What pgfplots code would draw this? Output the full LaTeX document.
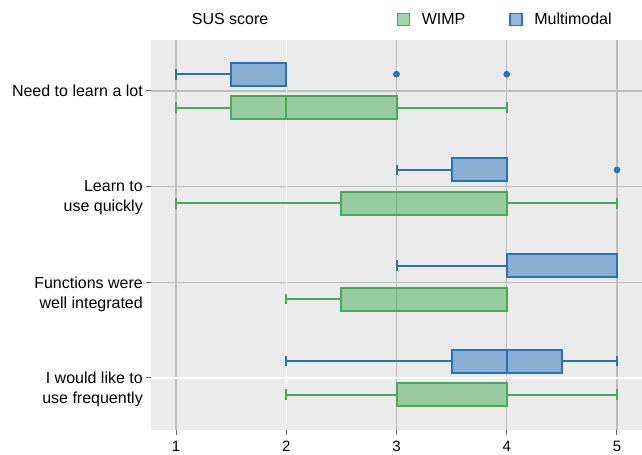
\documentclass[border=0pt]{standalone}
\usepackage{pgfplots}
\pgfplotsset{compat=1.18}
\usepgfplotslibrary{statistics}
\usepackage{fontspec}
\setmainfont{Liberation Sans}
\definecolor{mblue}{HTML}{2A72B8}
\definecolor{mgreen}{HTML}{45AB55}
\definecolor{bgc}{HTML}{EBEBEB}
\definecolor{gridc}{HTML}{BDBDBD}
\pgfplotsset{
  mm/.style={draw=mblue, fill=mblue, fill opacity=0.5, line width=2bp, mark=*, mark size=2.3bp,
    mark options={fill=mblue, draw=mblue, fill opacity=1, solid}, forget plot,
    boxplot/every whisker/.style={draw=mblue, line width=2bp},
    boxplot/every box/.style={draw=mblue, fill=mblue, fill opacity=0.5, line width=2bp},
    boxplot/every median/.style={draw=mblue, line width=2bp}},
  ww/.style={draw=mgreen, fill=mgreen, fill opacity=0.5, line width=2bp, mark=*, mark size=2.3bp,
    mark options={fill=mgreen, draw=mgreen, fill opacity=1, solid}, forget plot,
    boxplot/every whisker/.style={draw=mgreen, line width=2bp},
    boxplot/every box/.style={draw=mgreen, fill=mgreen, fill opacity=0.5, line width=2bp},
    boxplot/every median/.style={draw=mgreen, line width=2bp}},
}
\begin{document}
\begin{tikzpicture}[font=\fontsize{16bp}{20bp}\selectfont]
\useasboundingbox (0,0) rectangle (642bp,455bp);
\begin{axis}[
  at={(151bp,25bp)}, anchor=south west,
  width=491bp, height=390bp, scale only axis,
  xmin=0.773, xmax=5.227, ymin=-0.544, ymax=3.533,
  axis background/.style={fill=bgc},
  axis line style={draw=none},
  xtick={1,3,4,5}, extra x ticks={2}, extra x tick style={grid style={draw=white, line width=1.4bp}},
  ytick={1,2,3},
  yticklabels={{Functions were\\well integrated},{Learn to\\use quickly},{Need to learn a lot}},
  extra y ticks={0}, extra y tick labels={{I would like to\\use frequently}},
  extra y tick style={grid style={draw=white, line width=1.4bp}},
  grid=major, grid style={draw=gridc, line width=1.4bp},
  tick align=outside, xtick pos=lower, ytick pos=left,
  major tick length=5bp, tick style={draw=black!60, line width=1bp},
  yticklabel style={align=right, inner sep=0pt, anchor=north east, yshift=6bp, xshift=-3bp},
  xticklabel style={inner sep=0pt, anchor=north, yshift=-6bp, font=\fontsize{15bp}{18bp}\selectfont},
  /pgf/number format/assume math mode=true,
  boxplot/draw direction=x,
  boxplot/box extend=0.24,
  boxplot/whisker extend=0.11,
  legend style={at={(0.5004,1.0526)}, anchor=west, draw=none, fill=none, inner sep=0pt,
    /tikz/every even column/.append style={column sep=44bp}, nodes={inner sep=0pt}},
  legend columns=2, legend cell align=left,
  clip=false,
]
% Need to learn a lot (y=3)
\addplot[mm, boxplot prepared={lower whisker=1, lower quartile=1.5, median=2, upper quartile=2, upper whisker=2, draw position=3.175}]
  table[row sep=\\, y index=0] {v\\3\\4\\};
\addplot[ww, boxplot prepared={lower whisker=1, lower quartile=1.5, median=2, upper quartile=3, upper whisker=4, draw position=2.825}]
  coordinates {};
% Learn to use quickly (y=2)
\addplot[mm, boxplot prepared={lower whisker=3, lower quartile=3.5, median=4, upper quartile=4, upper whisker=4, draw position=2.175}]
  table[row sep=\\, y index=0] {v\\5\\};
\addplot[ww, boxplot prepared={lower whisker=1, lower quartile=2.5, median=4, upper quartile=4, upper whisker=5, draw position=1.825}]
  coordinates {};
% Functions were well integrated (y=1)
\addplot[mm, boxplot prepared={lower whisker=3, lower quartile=4, median=5, upper quartile=5, upper whisker=5, draw position=1.175}]
  coordinates {};
\addplot[ww, boxplot prepared={lower whisker=2, lower quartile=2.5, median=4, upper quartile=4, upper whisker=4, draw position=0.825}]
  coordinates {};
% I would like to use frequently (y=0)
\addplot[mm, boxplot prepared={lower whisker=2, lower quartile=3.5, median=4, upper quartile=4.5, upper whisker=5, draw position=0.175}]
  coordinates {};
\addplot[ww, boxplot prepared={lower whisker=2, lower quartile=3, median=4, upper quartile=4, upper whisker=5, draw position=-0.175}]
  coordinates {};
\addlegendimage{legend image code/.code={\draw[fill=mgreen, fill opacity=0.5, draw=mgreen, line width=1.5bp] (0bp,-6bp) rectangle (12bp,6bp); \path (24bp,0bp);}}
\addlegendentry{WIMP}
\addlegendimage{legend image code/.code={\draw[fill=mblue, fill opacity=0.5, draw=mblue, line width=1.5bp] (0bp,-6bp) rectangle (12bp,6bp); \path (24bp,0bp);}}
\addlegendentry{Multimodal}
\node[anchor=west, inner sep=0pt] at (axis description cs:0.0829,1.0526) {SUS score};
\end{axis}
\end{tikzpicture}
\end{document}
